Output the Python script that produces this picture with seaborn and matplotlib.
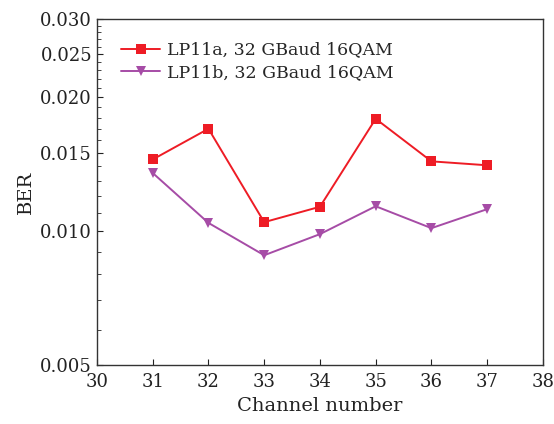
import matplotlib
matplotlib.use("Agg")
import matplotlib.pyplot as plt
import matplotlib.ticker as mticker
import seaborn as sns
import pandas as pd

channels = [31, 32, 33, 34, 35, 36, 37]
ber_lp11a = [0.0145, 0.0170, 0.01048, 0.01135, 0.0179, 0.01436, 0.01407]
ber_lp11b = [0.01352, 0.01044, 0.00883, 0.00985, 0.01138, 0.01016, 0.01121]
labels = ["LP11a, 32 GBaud 16QAM", "LP11b, 32 GBaud 16QAM"]
yticks = [0.005, 0.010, 0.015, 0.020, 0.025, 0.030]
xticks = [30, 31, 32, 33, 34, 35, 36, 37, 38]

sns.set_theme(style="ticks")
plt.rcParams['font.family'] = ['DejaVu Serif']

df = pd.DataFrame({
    "Channel": channels * 2,
    "BER": ber_lp11a + ber_lp11b,
    "Series": [labels[0]] * len(channels) + [labels[1]] * len(channels),
})

fig = plt.figure(figsize=(5.54, 4.24), dpi=100)
ax = fig.add_axes([0.175, 0.139, 0.805, 0.816])

sns.lineplot(data=df, x="Channel", y="BER", hue="Series", style="Series",
             markers={labels[0]: "s", labels[1]: "v"}, dashes=False,
             palette={labels[0]: "#ee1c25", labels[1]: "#a64ca6"},
             markersize=7, linewidth=1.4, markeredgewidth=0, ax=ax)

ax.set_yscale("log")
ax.set_ylim(0.005, 0.030)
ax.set_xlim(30, 38)
ax.yaxis.set_major_locator(mticker.FixedLocator(yticks))
ax.yaxis.set_major_formatter(mticker.FixedFormatter([f"{v:.3f}" for v in yticks]))
minor = [v / 10000 for v in range(50, 301, 10) if v % 50 != 0]
ax.yaxis.set_minor_locator(mticker.FixedLocator(minor))
ax.yaxis.set_minor_formatter(mticker.NullFormatter())
ax.set_xticks(xticks)

ax.tick_params(axis="both", direction="in", labelsize=13, length=4, width=0.8, colors="#222222")
ax.tick_params(axis="y", which="minor", direction="in", length=3, width=0.6)
ax.tick_params(axis="x", pad=6)
for s in ax.spines.values():
    s.set_linewidth(1.0)
    s.set_color("#333333")

ax.set_xlabel("Channel number", fontsize=14, color="#222222")
ax.set_ylabel("BER", fontsize=14, color="#222222")

leg = ax.legend(loc="upper left", bbox_to_anchor=(0.02, 0.98), frameon=False,
                fontsize=12.5, handlelength=2.2, handletextpad=0.4, labelspacing=0.3)

fig.savefig("out.png", dpi=100)
